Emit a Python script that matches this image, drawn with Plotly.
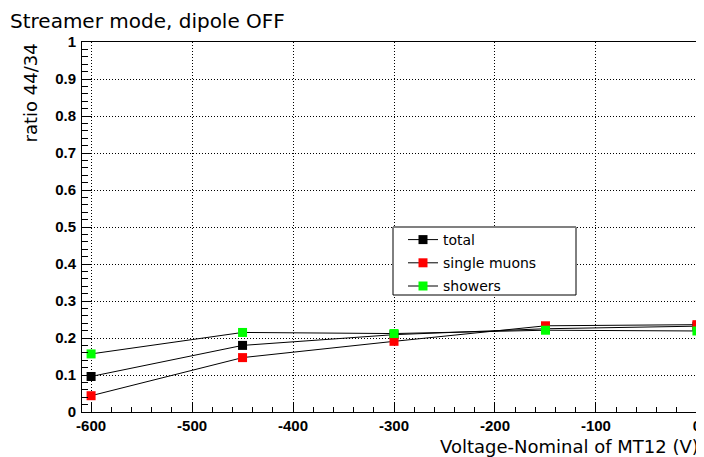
import plotly.graph_objects as go

# values
voltage = [-600, -450, -300, -150, 0]
ratio_total = [0.096, 0.180, 0.209, 0.225, 0.232]
ratio_single_muons = [0.044, 0.147, 0.191, 0.233, 0.236]
ratio_showers = [0.157, 0.215, 0.212, 0.221, 0.219]

x_ticks = [-600, -500, -400, -300, -200, -100, 0]
x_tick_labels = ["-600", "-500", "-400", "-300", "-200", "-100", "0"]

series = [
    ("total", ratio_total, "black"),
    ("single muons", ratio_single_muons, "#ff0000"),
    ("showers", ratio_showers, "#00ff00"),
]

# the page body has an 8px margin, so size the figure to fit the window
OFF = 8
W, H = 704 - OFF, 457 - OFF
L, R, T, B = 82 - OFF, 0, 42 - OFF, 45


def px(x):
    # reference pixel x -> paper
    return (x - 82) / (704 - 82)


def py(y):
    # reference pixel y -> paper
    return (412 - y) / (412 - 42)


fig = go.Figure()
for name, vals, col in series:
    fig.add_trace(go.Scatter(
        x=voltage, y=vals, name=name, mode="lines+markers", legendgroup=name,
        line=dict(color="black", width=1), cliponaxis=False,
        marker=dict(symbol="square", size=9, color=col, line=dict(width=0)),
    ))

tick_font = dict(family="Liberation Sans", size=15, color="black", weight="bold")
axis_common = dict(
    showline=True, linecolor="black", linewidth=1, mirror=True,
    showgrid=True, gridcolor="black", gridwidth=1, griddash="1px,2px",
    zeroline=False, ticks="inside", tickcolor="black", tickfont=tick_font,
    ticklabeloverflow="allow",
)

fig.update_xaxes(range=[-609, 7], tickvals=x_ticks, ticktext=x_tick_labels, ticklen=10,
                 minor=dict(ticks="inside", dtick=20, ticklen=5, tickcolor="black", showgrid=False),
                 **axis_common)
fig.update_yaxes(range=[0, 1], dtick=0.1, ticklen=10, ticklabelstandoff=2,
                 minor=dict(ticks="inside", dtick=0.02, ticklen=6, tickcolor="black", showgrid=False),
                 **axis_common)

# legend box, ROOT style
fig.add_shape(type="rect", xref="paper", yref="paper", x0=px(393), x1=px(576), y0=py(295), y1=py(227),
              fillcolor="white", line=dict(color="black", width=1), layer="above")
fig.add_shape(type="line", xref="paper", yref="paper", x0=px(393), x1=px(576), y0=py(227), y1=py(227),
              line=dict(color="#808080", width=2), layer="above")

fig.add_annotation(text="Streamer mode, dipole OFF", xref="paper", yref="paper",
                   x=px(9), y=py(8), xanchor="left", yanchor="top", showarrow=False, borderpad=0,
                   font=dict(family="DejaVu Sans", size=20, color="black"))
fig.add_annotation(text="ratio 44/34", xref="paper", yref="paper", textangle=-90,
                   x=px(30), y=py(42), xanchor="center", yanchor="top", showarrow=False,
                   font=dict(family="DejaVu Sans", size=18, color="black"))
fig.add_annotation(text="Voltage-Nominal of MT12 (V)", xref="paper", yref="paper",
                   x=px(701), y=py(446), xanchor="right", yanchor="middle", showarrow=False,
                   font=dict(family="DejaVu Sans", size=18, color="black"))

fig.update_layout(
    width=W, height=H,
    margin=dict(l=L, r=R, t=T, b=B),
    paper_bgcolor="white", plot_bgcolor="white",
    legend=dict(x=px(403), y=py(224), xanchor="left", yanchor="top",
                bgcolor="rgba(0,0,0,0)", borderwidth=0, tracegroupgap=2,
                font=dict(family="DejaVu Sans", size=14, color="black")),
)

fig.write_html("out.html")
